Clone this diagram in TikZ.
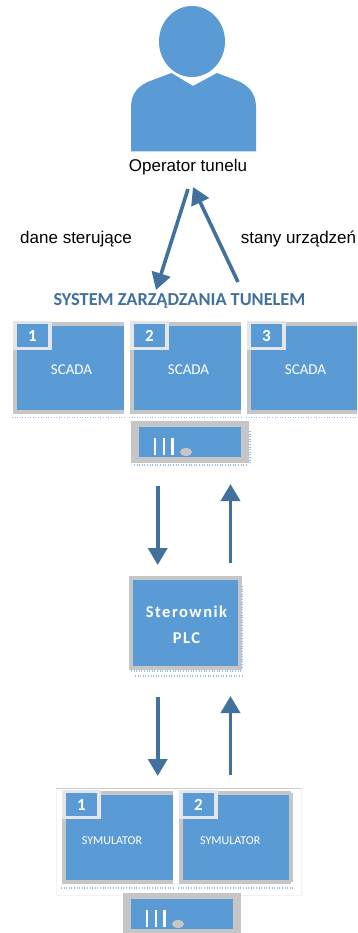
\documentclass[tikz,border=0pt]{standalone}
\usepackage{fontspec}
\setmainfont{Liberation Sans}
\newfontfamily\carlito{Carlito}
\usetikzlibrary{arrows.meta,positioning,calc}
\definecolor{boxblue}{HTML}{5B9BD5}
\definecolor{arrowblue}{HTML}{41719C}
\definecolor{boxgray}{HTML}{C6C6C6}
\definecolor{badgegray}{HTML}{E4E6E9}
\definecolor{dotblue}{HTML}{9DBDE6}
\tikzset{
    screen/.style={fill=boxblue, text=white, inner sep=0, outer sep=0, anchor=north west, font=\carlito\fontsize{15}{17}\selectfont},
    frameline/.style={draw=boxgray, line width=4pt},
    badge/.style={fill=boxblue, draw=badgegray, line width=3.5pt, text=white, inner sep=0, minimum width=35pt, minimum height=26pt, font=\carlito\bfseries\fontsize{17}{17}\selectfont},
    flow/.style={draw=arrowblue, line width=3.6pt, -{Triangle[length=17pt,width=19pt]}},
    fringe/.style={draw=dotblue, line width=1.6pt, dash pattern=on 1pt off 1.6pt},
    caption/.style={inner sep=0, font=\fontsize{17}{19}\selectfont},
    bar/.style={draw=white, line width=2.8pt}
}
\begin{document}
\begin{tikzpicture}[x=1pt, y=-1pt]
    \useasboundingbox (0,0) rectangle (357,933);
    \clip (0,0) rectangle (357,933);

    % Operator
    \fill[boxblue] (192,41.5) ellipse (33pt and 35.5pt);
    \fill[boxblue] (131,151.5) -- (131,107) .. controls (131,92) and (140,85) .. (150,81) -- (171.5,73)
        -- (193,86) -- (217,73) -- (238,81) .. controls (247,85) and (256,92) .. (256,107) -- (256,151.5) -- cycle;
    \node[caption] (operator) at (188,167) {Operator tunelu};
    \node[caption] (control) at (76,239) {dane sterujące};
    \node[caption] (states) at (298.5,239) {stany urządzeń};
    \node[inner sep=0, text=arrowblue, font=\carlito\bfseries\fontsize{18.3}{20}\selectfont] (system) at (179.5,301) {SYSTEM ZARZĄDZANIA TUNELEM};

    \coordinate (downa) at (188,189);
    \coordinate (downb) at (156,290);
    \coordinate (upa) at (238,282);
    \coordinate (upb) at (193,187);
    \draw[flow] (downa) -- (downb);
    \draw[flow] (upa) -- (upb);

    % SCADA screens
    \foreach \n/\x in {1/15, 2/132, 3/249} {
        \node[screen, minimum width=109pt, minimum height=88pt] (scada\n) at (\x,324) {};
        \node[screen, anchor=center] (scadatext\n) at ($(scada\n.center)+(2,1.5)$) {SCADA};
        \draw[frameline] (scada\n.north east) -- (scada\n.north west) -- (scada\n.south west) -- (scada\n.south east);
        \node[badge] (badge\n) at ($(scada\n.north west)+(17.5,11.5)$) {\n};
        \draw[fringe] ($(scada\n.south west)+(-3,5.5)$) -- ($(scada\n.south east)+(0,5.5)$);
    }

    % Links to the controller
    \coordinate (linka) at (157.7,486);
    \coordinate (linkb) at (157.7,565);
    \coordinate (linkc) at (230.5,563);
    \coordinate (linkd) at (230.5,484);
    \draw[flow] (linka) -- (linkb);
    \draw[flow] (linkc) -- (linkd);

    % Sterownik
    \node[screen, draw=boxgray, line width=4pt, minimum width=109pt, minimum height=90pt] (plc) at (131,578) {};
    \node[screen, anchor=center, fill=none, align=center, font=\carlito\bfseries\fontsize{16.5}{26}\selectfont] (plctext) at ($(plc.center)+(1,2)$) {\addfontfeature{LetterSpace=9}Sterownik\\\addfontfeature{LetterSpace=9}PLC};
    \draw[fringe] ($(plc.south west)+(0,3)$) -- ($(plc.south east)+(2,3)$);
    \draw[fringe] ($(plc.south west)+(4,8)$) -- ($(plc.south east)+(2,8)$);
    \draw[fringe] ($(plc.north east)+(2,8)$) -- ($(plc.south east)+(2,0)$);

    \coordinate (linke) at (157.7,697);
    \coordinate (linkf) at (157.7,776);
    \coordinate (linkg) at (230.5,775);
    \coordinate (linkh) at (230.5,696);
    \draw[flow] (linke) -- (linkf);
    \draw[flow] (linkg) -- (linkh);

    % Simulators
    \draw[draw=black!5, line width=0.8pt] (56,788) -- (56,895) -- (301,895) -- (301,788);
    \draw[draw=black!20, line width=0.8pt] (56,788) -- (301,788);
    \foreach \n/\x/\w/\d in {1/64/109/6.5, 2/181/110/5.7} {
        \node[screen, minimum width=\w pt, minimum height=89pt] (sim\n) at (\x,793) {};
        \node[screen, anchor=center, font=\carlito\fontsize{12}{14}\selectfont] (simtext\n) at ($(sim\n.center)+(-\d,3.5)$) {SYMULATOR};
        \draw[frameline] (sim\n.north east) -- (sim\n.north west) -- (sim\n.south west) -- (sim\n.south east);
        \node[badge] (simbadge\n) at ($(sim\n.north west)+(17.5,11.5)$) {\n};
        \draw[fringe] ($(sim\n.south west)+(-3,6)$) -- ($(sim\n.south east)+(2,6)$);
    }
    \draw[frameline] (sim2.north east) -- (sim2.south east);

    % Small panels
    \foreach \n/\x/\y in {a/131/421, b/123/893} {
        \node[screen, fill=boxgray, minimum width=118pt, minimum height=42pt] (panel\n) at (\x,\y) {};
        \node[screen, minimum width=102pt, minimum height=30pt] (inner\n) at ($(panel\n.north west)+(8,6)$) {};
        \draw[bar] ($(inner\n.south west)+(16,-2)$) -- ($(inner\n.south west)+(16,-19)$);
        \draw[bar] ($(inner\n.south west)+(25,-2)$) -- ($(inner\n.south west)+(25,-19)$);
        \draw[bar] ($(inner\n.south west)+(33.5,-2)$) -- ($(inner\n.south west)+(33.5,-19)$);
        \fill[boxgray] ($(inner\n.south west)+(47,-5)$) ellipse (6pt and 4pt);
    }
    \draw[fringe] ($(panela.south west)+(3,2)$) -- ($(panela.south east)+(-2,2)$);
    \draw[fringe] ($(panela.north east)+(1,10)$) -- ($(panela.south east)+(1,0)$);
\end{tikzpicture}
\end{document}
